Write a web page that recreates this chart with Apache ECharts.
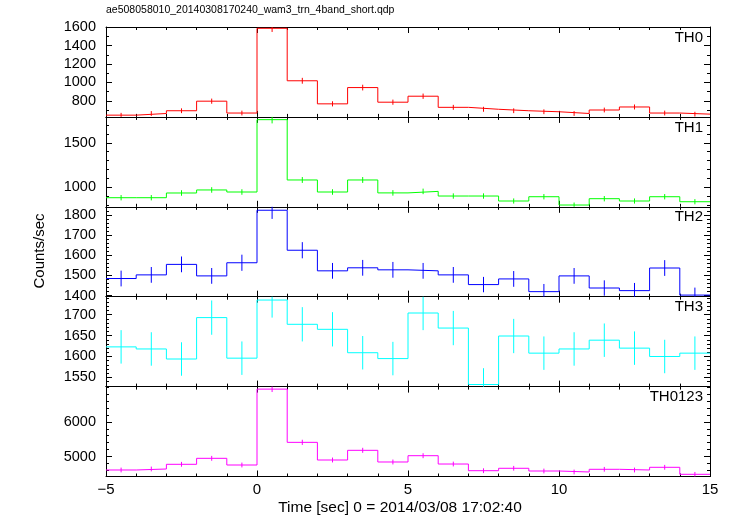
<!DOCTYPE html>
<html><head><meta charset="utf-8">
<script src="https://cdn.jsdelivr.net/npm/echarts@6/dist/echarts.min.js"></script>
<style>html,body{margin:0;padding:0;background:#fff}#c{width:733px;height:516px}</style>
</head><body><div id="c"></div>
<script>
// ---- data ----
const binCenters = [-4.5,-3.5,-2.5,-1.5,-0.5,0.5,1.5,2.5,3.5,4.5,5.5,6.5,7.5,8.5,9.5,10.5,11.5,12.5,13.5,14.5];
const binWidth = 1;
const th0    = [644,662,692,796,667,1589,1018,767,944,785,850,729,708,692,681,662,700,733,667,655];
const th0Err = [25,26,26,28,26,40,32,28,31,28,29,27,27,26,26,26,26,27,26,26];
const th1    = [884,884,937,971,948,1760,1083,948,1083,938,955,903,903,847,895,802,873,847,895,839];
const th1Err = [30,30,31,31,31,42,33,31,33,31,31,30,30,29,30,28,30,29,30,29];
const th2    = [1485,1503,1555,1498,1563,1823,1625,1523,1538,1528,1523,1503,1455,1483,1420,1498,1438,1425,1537,1403];
const th2Err = [39,39,39,39,40,43,40,39,39,39,39,39,38,39,38,39,38,38,39,37];
const th3    = [1623,1618,1594,1693,1596,1735,1677,1665,1609,1595,1704,1668,1533,1649,1608,1618,1639,1620,1600,1608];
const th3Err = [40,40,40,41,40,42,41,41,40,40,41,41,39,41,40,40,40,40,40,40];
const th0123    = [4620,4649,4783,4954,4763,6934,5411,4906,5183,4849,5029,4791,4600,4669,4591,4563,4640,4620,4697,4497];
const th0123Err = [68,68,69,70,69,83,74,70,72,70,71,69,68,68,68,68,68,68,69,67];

const panelNames = ['TH0','TH1','TH2','TH3','TH0123'];
const panelValues = [th0, th1, th2, th3, th0123];
const panelErrors = [th0Err, th1Err, th2Err, th3Err, th0123Err];
const yRanges = [[625,1603],[782,1791],[1395,1840],[1528,1743],[4434,7006]];
const yLabelTicks = [[800,1000,1200,1400,1600],[1000,1500],[1400,1500,1600,1700,1800],[1550,1600,1650,1700],[5000,6000]];
const yMinorStep = [100,100,20,10,200];
const xRange = [-5, 15];
const xInterval = 5;
const titleText = 'ae508058010_20140308170240_wam3_trn_4band_short.qdp';
const xName = 'Time [sec] 0 = 2014/03/08 17:02:40';
const yName = 'Counts/sec';

// ---- layout / style ----
const colors = ['#ff0000','#00ff00','#0000ff','#00ffff','#ff00ff'];
const FONT = '"Liberation Sans", Arial, Helvetica, sans-serif';
const gridLeft = 106, gridRight = 23, gridTop0 = 27, panelH = 89.9;

function minorValues(r, step){
  const out = [];
  for (let v = Math.ceil(r[0]/step)*step; v <= r[1]; v += step) out.push(v);
  return out;
}

const grids = [], xAxes = [], yAxes = [], series = [], graphics = [];
panelNames.forEach((name, i) => {
  grids.push({left: gridLeft, right: gridRight, top: gridTop0 + i*panelH, height: panelH, containLabel: false});
  const axisLine = {show: true, onZero: false, lineStyle: {color: '#000', width: 1}};
  const isLast = i === panelNames.length - 1;
  ['bottom','top'].forEach((pos) => {
    xAxes.push({
      type: 'value', gridIndex: i, position: pos, min: xRange[0], max: xRange[1], interval: xInterval,
      axisLine: axisLine,
      axisTick: {show: true, inside: true, length: 6, lineStyle: {color: '#000'}},
      minorTick: {show: true, splitNumber: 5, length: 3, lineStyle: {color: '#000'}},
      splitLine: {show: false}, minorSplitLine: {show: false},
      axisLabel: {show: isLast && pos === 'bottom', color: '#000', fontFamily: FONT, fontSize: 15, margin: 6,
        formatter: v => v < 0 ? '\u2212' + Math.abs(v) : String(v)}
    });
  });
  const r = yRanges[i];
  const minors = minorValues(r, yMinorStep[i]);
  const yBase = yAxes.length;
  const noLine = {show: false, onZero: false};
  yAxes.push({type: 'value', gridIndex: i, position: 'left', min: r[0], max: r[1],
    axisLine: axisLine, splitLine: {show: false},
    axisTick: {show: true, inside: true, length: 6, customValues: yLabelTicks[i], lineStyle: {color: '#000'}},
    axisLabel: {show: true, customValues: yLabelTicks[i], color: '#000', fontFamily: FONT, fontSize: 14.5, margin: 10,
      formatter: v => String(v)}});
  yAxes.push({type: 'value', gridIndex: i, position: 'left', min: r[0], max: r[1],
    axisLine: noLine, splitLine: {show: false},
    axisTick: {show: true, inside: true, length: 3, customValues: minors, lineStyle: {color: '#000'}},
    axisLabel: {show: false}});
  yAxes.push({type: 'value', gridIndex: i, position: 'right', min: r[0], max: r[1],
    axisLine: axisLine, splitLine: {show: false},
    axisTick: {show: true, inside: true, length: 6, customValues: yLabelTicks[i], lineStyle: {color: '#000'}},
    axisLabel: {show: false}});
  yAxes.push({type: 'value', gridIndex: i, position: 'right', min: r[0], max: r[1],
    axisLine: noLine, splitLine: {show: false},
    axisTick: {show: true, inside: true, length: 3, customValues: minors, lineStyle: {color: '#000'}},
    axisLabel: {show: false}});

  const vals = panelValues[i], errs = panelErrors[i];
  const stepData = binCenters.map((c, j) => [c - binWidth/2, vals[j]]);
  stepData.push([binCenters[binCenters.length-1] + binWidth/2, vals[vals.length-1]]);
  series.push({
    type: 'line', xAxisIndex: i*2, yAxisIndex: yBase, data: stepData, step: 'end',
    symbol: 'none', lineStyle: {color: colors[i], width: 1}, animation: false, clip: true, silent: true
  });
  const ymin = r[0], ymax = r[1], col = colors[i];
  series.push({
    type: 'custom', xAxisIndex: i*2, yAxisIndex: yBase,
    data: binCenters.map((c, j) => [c, vals[j], errs[j]]),
    encode: {x: 0, y: 1}, animation: false, silent: true,
    renderItem: (params, api) => {
      const x = api.value(0), v = api.value(1), e = api.value(2);
      const lo = Math.max(ymin, v - e), hi = Math.min(ymax, v + e);
      const p1 = api.coord([x, lo]), p2 = api.coord([x, hi]);
      return {type: 'line', shape: {x1: p1[0], y1: p1[1], x2: p2[0], y2: p2[1]},
        style: {stroke: col, lineWidth: 1}};
    }
  });
  graphics.push({type: 'text', right: 30, top: gridTop0 + i*panelH + 3,
    style: {text: name, fill: '#000', font: '15px ' + FONT}});
});

graphics.push({type: 'text', left: 106, top: 5, style: {text: titleText, fill: '#000', font: '10.5px ' + FONT}});
graphics.push({type: 'text', x: 40, y: 251, rotation: Math.PI/2,
  style: {text: yName, fill: '#000', font: '15px ' + FONT, align: 'center', verticalAlign: 'middle'}});
graphics.push({type: 'text', x: 400, y: 508,
  style: {text: xName, fill: '#000', font: '15.5px ' + FONT, align: 'center', verticalAlign: 'middle'}});

const chart = echarts.init(document.getElementById('c'), null, {renderer: 'canvas'});
chart.setOption({
  animation: false,
  backgroundColor: '#fff',
  grid: grids, xAxis: xAxes, yAxis: yAxes, series: series, graphic: graphics
});
</script></body></html>
